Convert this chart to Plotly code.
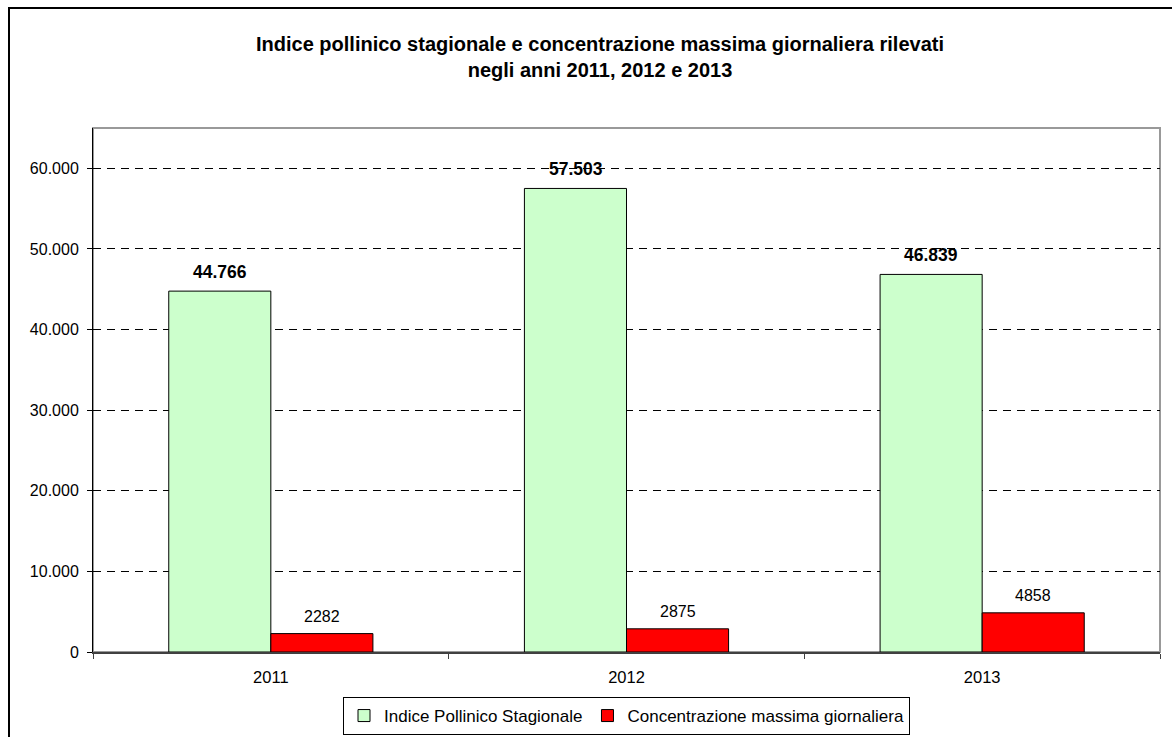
import plotly.graph_objects as go

anni = ["2011", "2012", "2013"]
indice_pollinico = [44766, 57503, 46839]
concentrazione_max = [2282, 2875, 4858]
y_ticks = [0, 10000, 20000, 30000, 40000, 50000, 60000]

FONT = "Liberation Sans, Arial, sans-serif"

fig = go.Figure()
fig.add_trace(go.Bar(
    x=anni, y=indice_pollinico, name="Indice Pollinico Stagionale",
    marker=dict(color="#CCFFCC", line=dict(color="black", width=1)),
))
fig.add_trace(go.Bar(
    x=anni, y=concentrazione_max, name="Concentrazione massima giornaliera",
    marker=dict(color="#FF0000", line=dict(color="black", width=1)),
))

annotations = []
for i, v in enumerate(indice_pollinico):
    annotations.append(dict(
        x=i, y=v, xref="x", yref="y", text="<b>%s</b>" % f"{v:,}".replace(",", "."),
        showarrow=False, xshift=-51, yshift=19, yanchor="middle",
        font=dict(family=FONT, size=17.5, color="black")))
for i, v in enumerate(concentrazione_max):
    annotations.append(dict(
        x=i, y=v, xref="x", yref="y", text=str(v),
        showarrow=False, xshift=51, yshift=17, yanchor="middle",
        font=dict(family=FONT, size=16, color="black")))

shapes = [
    # plot area border
    dict(type="rect", xref="paper", yref="paper", x0=0, y0=0, x1=1, y1=1,
         line=dict(color="#999999", width=2), layer="below"),
    # outer chart frame
    dict(type="rect", xref="paper", yref="paper",
         x0=(9 - 93) / 1067, x1=(1185 - 93) / 1067,
         y0=(652 - 750) / 524, y1=(652 - 8) / 524,
         line=dict(color="black", width=2)),
]

fig.update_layout(
    width=1172, height=737,
    margin=dict(l=93, r=12, t=128, b=85, autoexpand=False),
    paper_bgcolor="white", plot_bgcolor="white",
    separators=",.",
    font=dict(family=FONT, size=16, color="black"),
    barmode="group", bargap=0.426, bargroupgap=0,
    title=dict(
        text="<b>Indice pollinico stagionale e concentrazione massima giornaliera rilevati<br>negli anni 2011, 2012 e 2013</b>",
        x=600 / 1172, xanchor="center", xref="container",
        y=1 - 51 / 737, yanchor="middle", yref="container",
        font=dict(family=FONT, size=20, color="black"),
    ),
    xaxis=dict(
        type="category", range=[-0.5, 2.5], tickson="boundaries",
        ticks="outside", ticklen=5,
        tickcolor="#404040", showline=True, linecolor="#404040", linewidth=2,
        showgrid=False, tickfont=dict(size=16.5), ticklabelstandoff=9,
    ),
    yaxis=dict(
        range=[0, 65000], tickvals=y_ticks, tickformat=",d",
        ticks="outside", ticklen=5, tickcolor="black",
        showline=True, linecolor="black", linewidth=1,
        showgrid=True, gridcolor="black", gridwidth=1, griddash="8px,6px",
        zeroline=False, tickfont=dict(size=16), ticklabelstandoff=5,
    ),
    legend=dict(
        orientation="h", x=0.5, xanchor="center",
        yref="container", y=1 - 716 / 737, yanchor="middle",
        bordercolor="black", borderwidth=1, font=dict(size=17),
        itemwidth=30, tracegroupgap=0,
    ),
    showlegend=True,
    annotations=annotations,
    shapes=shapes,
)

fig.write_html("out.html")
